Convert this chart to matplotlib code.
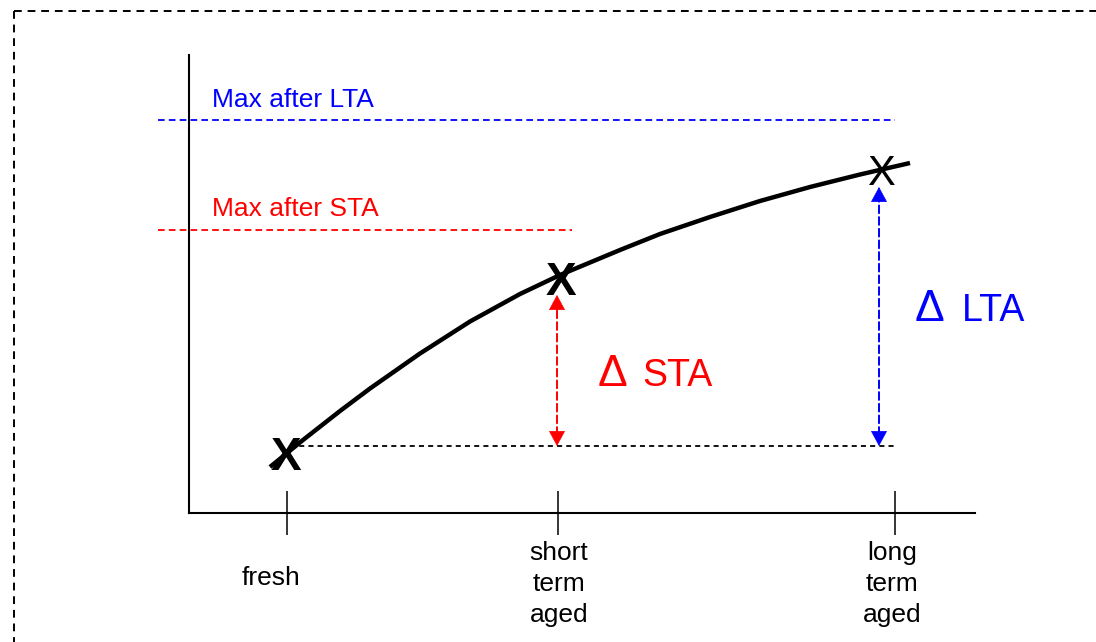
import matplotlib.pyplot as plt
from matplotlib.lines import Line2D

plt.rcParams['font.family'] = ['Liberation Sans', 'DejaVu Sans']

##### DATA #####
# units: 100 px from the axis origin
stage_x = [0.98, 3.69, 7.06]
stage_labels = ['fresh', 'short\nterm\naged', 'long\nterm\naged']

curve_x = [0.81, 1.14, 1.51, 1.81, 2.31, 2.81, 3.31, 3.71, 4.31, 4.71, 5.21, 5.71, 6.21, 6.71, 7.21]
curve_y = [0.46, 0.73, 1.02, 1.245, 1.595, 1.915, 2.19, 2.38, 2.63, 2.79, 2.96, 3.12, 3.26, 3.385, 3.50]

mark_x = [0.97, 3.72, 6.92]
mark_y = [0.43, 2.18, 3.28]   # baseline of the "X" glyphs

fresh_level = 0.67
fresh_span = [1.01, 7.06]
max_sta = 2.83
max_sta_span = [-0.31, 3.83]
max_lta = 3.93
max_lta_span = [-0.31, 7.06]

sta_arrow_x, sta_arrow_top = 3.68, 2.18
lta_arrow_x, lta_arrow_top = 6.90, 3.26

RED = '#ff0000'
BLUE = '#0000ff'

##### FIGURE #####
W, H = 1096, 642
fig = plt.figure(figsize=(W / 100, H / 100), dpi=100)
ax = fig.add_axes([189 / W, (H - 513) / H, 786 / W, 458 / H])
ax.set_xlim(0, 7.86)
ax.set_ylim(0, 4.58)

for s in ['top', 'right']:
    ax.spines[s].set_visible(False)
for s in ['left', 'bottom']:
    ax.spines[s].set_linewidth(1.5)
ax.set_yticks([])
ax.set_xticks(stage_x)
ax.set_xticklabels([])
ax.tick_params(axis='x', direction='inout', length=31, width=1.1)

# curve and markers
ax.plot(curve_x, curve_y, color='black', lw=3.2, solid_capstyle='butt', solid_joinstyle='round')
for i, (x, y) in enumerate(zip(mark_x, mark_y)):
    ax.text(x, y, 'X', ha='center', va='baseline',
            fontsize=33 if i < 2 else 30, fontweight='bold' if i < 2 else 'normal')

# reference levels
ax.plot(fresh_span, [fresh_level] * 2, color='black', lw=1.3, dashes=(2.8, 2.3))
ax.plot(max_sta_span, [max_sta] * 2, color=RED, lw=1.3, dashes=(3.7, 2.3), clip_on=False)
ax.plot(max_lta_span, [max_lta] * 2, color=BLUE, lw=1.3, dashes=(3.7, 2.3), clip_on=False)
ax.text(0.23, 4.06, 'Max after LTA', color=BLUE, fontsize=19, va='baseline')
ax.text(0.23, 2.97, 'Max after STA', color=RED, fontsize=19, va='baseline')


def delta_arrow(x, y0, y1, color):
    ax.annotate('', xy=(x, y1), xytext=(x, y0),
                arrowprops=dict(arrowstyle='-', color=color, lw=1.4,
                                linestyle=(0, (4, 2)), shrinkA=8, shrinkB=8))
    for tip, off in [(y1, -11), (y0, 11)]:
        ax.annotate('', xy=(x, tip), xytext=(0, off), textcoords='offset points',
                    arrowprops=dict(arrowstyle='-|>,head_length=1.0,head_width=0.54',
                                    mutation_scale=10, color=color, lw=0.5,
                                    shrinkA=0, shrinkB=0))


delta_arrow(sta_arrow_x, fresh_level, sta_arrow_top, RED)
delta_arrow(lta_arrow_x, fresh_level, lta_arrow_top, BLUE)

ax.text(4.09, 1.27, 'Δ', color=RED, fontsize=32, va='baseline')
ax.text(4.53, 1.27, 'STA', color=RED, fontsize=27, va='baseline')
ax.text(7.26, 1.92, 'Δ', color=BLUE, fontsize=32, va='baseline')
ax.text(7.73, 1.92, 'LTA', color=BLUE, fontsize=27, va='baseline')

# stage labels
ax.text(stage_x[0] - 0.16, -0.72, stage_labels[0], ha='center', va='baseline',
        fontsize=19, clip_on=False)
for x, dx, lab in zip(stage_x[1:], [0.01, -0.03], stage_labels[1:]):
    ax.text(x + dx, -0.28, lab, ha='center', va='top', fontsize=19,
            linespacing=1.36, clip_on=False)

# dashed frame (only top and left edges fall inside the picture)
frame = dict(color='black', lw=1.4, dashes=(4, 3), transform=fig.transFigure)
fig.add_artist(Line2D([14 / W, 1.0], [1 - 11 / H] * 2, **frame))
fig.add_artist(Line2D([14 / W] * 2, [1 - 11 / H, 0.0], **frame))

fig.savefig('out.png', dpi=100, facecolor='white')
